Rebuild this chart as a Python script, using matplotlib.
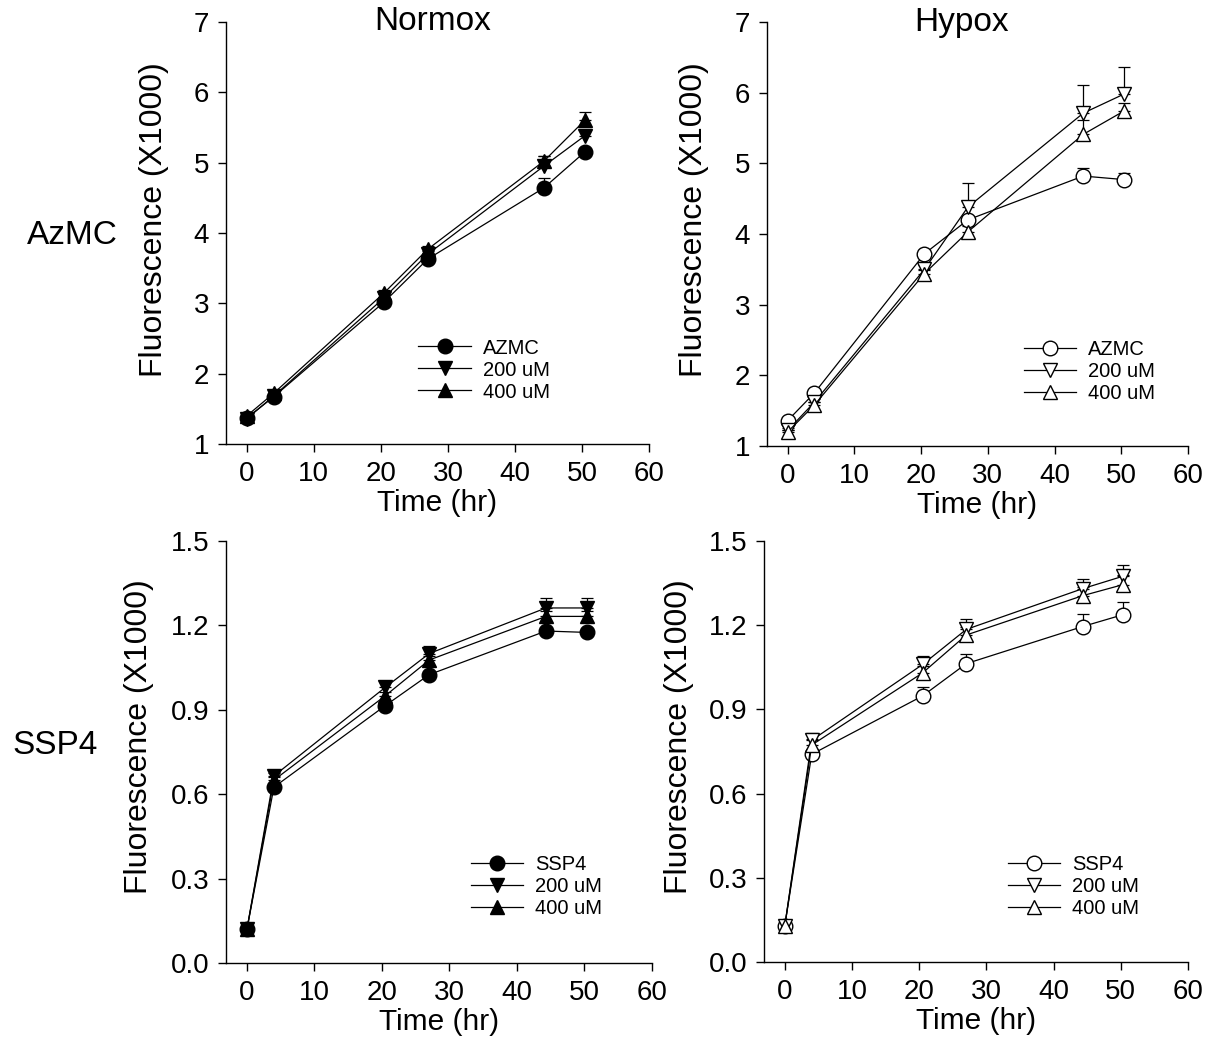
import matplotlib
matplotlib.use("Agg")
import matplotlib.pyplot as plt
from matplotlib.lines import Line2D
import numpy as np

plt.rcParams['font.family'] = ['Liberation Sans', 'DejaVu Sans']

time = [0, 4, 20.5, 27, 44.3, 50.4]

# Normox AzMC
nz_ctrl = [1.37, 1.67, 3.02, 3.63, 4.64, 5.15]
nz_ctrl_err = [0.03, 0.03, 0.04, 0.05, 0.14, 0.05]
nz_200 = [1.36, 1.68, 3.08, 3.70, 4.95, 5.38]
nz_200_err = [0.03, 0.03, 0.05, 0.05, 0.15, 0.08]
nz_400 = [1.40, 1.72, 3.15, 3.77, 5.02, 5.60]
nz_400_err = [0.03, 0.03, 0.04, 0.04, 0.08, 0.12]

# Hypox AzMC
hz_ctrl = [1.36, 1.75, 3.72, 4.20, 4.82, 4.77]
hz_ctrl_err = [0.03, 0.04, 0.05, 0.05, 0.12, 0.10]
hz_200 = [1.22, 1.62, 3.50, 4.38, 5.71, 5.98]
hz_200_err = [0.03, 0.04, 0.06, 0.34, 0.40, 0.38]
hz_400 = [1.20, 1.58, 3.44, 4.03, 5.41, 5.74]
hz_400_err = [0.03, 0.04, 0.05, 0.08, 0.20, 0.12]

# Normox SSP4
ns_ctrl = [0.12, 0.625, 0.915, 1.025, 1.18, 1.175]
ns_ctrl_err = [0.005, 0.008, 0.01, 0.01, 0.01, 0.01]
ns_200 = [0.12, 0.665, 0.98, 1.10, 1.262, 1.262]
ns_200_err = [0.005, 0.01, 0.02, 0.027, 0.035, 0.035]
ns_400 = [0.12, 0.65, 0.95, 1.077, 1.232, 1.232]
ns_400_err = [0.005, 0.01, 0.015, 0.015, 0.02, 0.02]

# Hypox SSP4
hs_ctrl = [0.13, 0.74, 0.948, 1.063, 1.195, 1.238]
hs_ctrl_err = [0.005, 0.02, 0.032, 0.035, 0.045, 0.046]
hs_200 = [0.13, 0.79, 1.06, 1.185, 1.33, 1.375]
hs_200_err = [0.005, 0.026, 0.03, 0.037, 0.035, 0.04]
hs_400 = [0.13, 0.773, 1.03, 1.165, 1.305, 1.345]
hs_400_err = [0.005, 0.02, 0.025, 0.03, 0.03, 0.035]

x_ticks = [0, 10, 20, 30, 40, 50, 60]
top_yticks = [1, 2, 3, 4, 5, 6, 7]
bot_yticks = [0.0, 0.3, 0.6, 0.9, 1.2, 1.5]

W, H = 1213, 1063
fig = plt.figure(figsize=(W / 100, H / 100), dpi=100)

def px_axes(l, r, t, b):
    ax = fig.add_axes([l / W, 1 - b / H, (r - l) / W, (b - t) / H])
    ax._px = (l, r, t, b)
    return ax

ax_tl = px_axes(226, 649, 22, 444)
ax_tr = px_axes(767, 1188, 22, 446)
ax_bl = px_axes(226, 652, 541, 963)
ax_br = px_axes(764, 1188, 541, 962)

TICK_FS = 20
XLABEL_FS = 21.5
YLABEL_FS = 23
LEG_FS = 14.5

def style(ax, ylim, yticks, yfmt, ylab_x, ylab_y):
    ax.set_xlim(-3.1, 60)
    ax.set_ylim(*ylim)
    ax.set_xticks(x_ticks)
    ax.set_yticks(yticks)
    ax.set_yticklabels([yfmt.format(v) for v in yticks])
    for s in ['top', 'right']:
        ax.spines[s].set_visible(False)
    for s in ['left', 'bottom']:
        ax.spines[s].set_linewidth(1.0)
    ax.tick_params(direction='out', length=6, width=1.0, labelsize=TICK_FS, pad=6)
    ax.set_xlabel('Time (hr)', fontsize=XLABEL_FS, labelpad=2)
    ax.set_ylabel('Fluorescence (X1000)', fontsize=YLABEL_FS)
    l, r, t, b = ax._px
    ax.yaxis.set_label_coords((ylab_x - l) / (r - l), (b - ylab_y) / (b - t))
    ax.patch.set_alpha(0)

MS = 10.5

def series(ax, y, err, marker, filled, z):
    fc = 'black' if filled else 'white'
    ax.errorbar(time, y, yerr=[np.zeros(len(err)), err], fmt='none',
                ecolor='black', elinewidth=0.9, capsize=4, capthick=0.9, zorder=1.5)
    ax.plot(time, y, '-', marker=marker, color='black', lw=0.9, ms=MS,
            mfc=fc, mec='black', mew=1.0, zorder=z)

def legend(ax, labels, markers, filled, x, y):
    fc = 'black' if filled else 'white'
    handles = [Line2D([], [], color='black', lw=0.9, marker=m, ms=MS, mfc=fc,
                      mec='black', mew=1.0) for m in markers]
    ax.legend(handles, labels, loc='upper left', bbox_to_anchor=(x, y), frameon=False,
              fontsize=LEG_FS, handlelength=2.6, handletextpad=0.6,
              labelspacing=0.15, borderpad=0, borderaxespad=0)

mk = ['o', 'v', '^']

style(ax_tl, (1, 7), top_yticks, '{:.0f}', 169, 220)
series(ax_tl, nz_ctrl, nz_ctrl_err, 'o', True, 2)
series(ax_tl, nz_200, nz_200_err, 'v', True, 2.1)
series(ax_tl, nz_400, nz_400_err, '^', True, 2.2)
legend(ax_tl, ['AZMC', '200 uM', '400 uM'], mk, True, 0.455, 0.25)

style(ax_tr, (1, 7), top_yticks, '{:.0f}', 709, 220)
series(ax_tr, hz_ctrl, hz_ctrl_err, 'o', False, 2)
series(ax_tr, hz_200, hz_200_err, 'v', False, 2.1)
series(ax_tr, hz_400, hz_400_err, '^', False, 2.2)
legend(ax_tr, ['AZMC', '200 uM', '400 uM'], mk, False, 0.61, 0.25)

style(ax_bl, (0, 1.5), bot_yticks, '{:.1f}', 154, 737)
series(ax_bl, ns_ctrl, ns_ctrl_err, 'o', True, 2)
series(ax_bl, ns_200, ns_200_err, 'v', True, 2.1)
series(ax_bl, ns_400, ns_400_err, '^', True, 2.2)
legend(ax_bl, ['SSP4', '200 uM', '400 uM'], mk, True, 0.575, 0.255)

style(ax_br, (0, 1.5), bot_yticks, '{:.1f}', 694, 737)
series(ax_br, hs_ctrl, hs_ctrl_err, 'o', False, 2)
series(ax_br, hs_200, hs_200_err, 'v', False, 2.1)
series(ax_br, hs_400, hs_400_err, '^', False, 2.2)
legend(ax_br, ['SSP4', '200 uM', '400 uM'], mk, False, 0.575, 0.255)

fig.text(433 / W, 1 - 22 / H, 'Normox', fontsize=24, ha='center', va='center')
fig.text(962 / W, 1 - 22 / H, 'Hypox', fontsize=24, ha='center', va='center')
fig.text(72 / W, 1 - 236 / H, 'AzMC', fontsize=24, ha='center', va='center')
fig.text(55 / W, 1 - 745 / H, 'SSP4', fontsize=24, ha='center', va='center')

fig.savefig('out.png', dpi=100)
